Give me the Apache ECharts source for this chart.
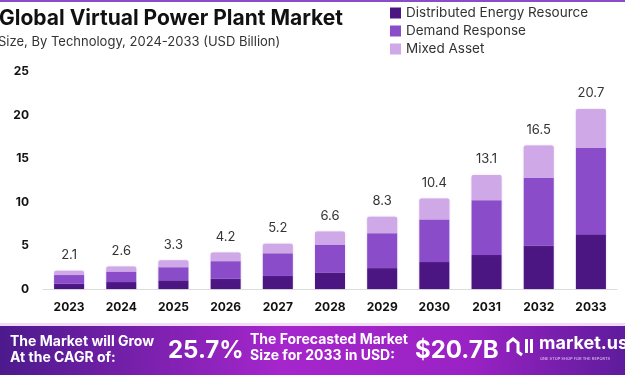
<!DOCTYPE html>
<html>
<head>
<meta charset="utf-8">
<script src="https://cdn.jsdelivr.net/npm/echarts@6/dist/echarts.min.js"></script>
<style>
  html, body { margin: 0; padding: 0; background: #fff; }
  #chart { width: 625px; height: 375px; }
</style>
</head>
<body>
<div id="chart"></div>
<script>
// values (USD billion)
const years = ['2023', '2024', '2025', '2026', '2027', '2028', '2029', '2030', '2031', '2032', '2033'];
const distributedEnergy = [0.6, 0.8, 1.0, 1.2, 1.5, 1.9, 2.4, 3.1, 3.9, 5.0, 6.3];
const demandResponse = [1.0, 1.2, 1.5, 2.0, 2.6, 3.2, 4.0, 4.9, 6.3, 7.8, 9.9];
const mixedAsset = [0.5, 0.6, 0.8, 1.0, 1.1, 1.5, 1.9, 2.4, 2.9, 3.7, 4.5];
const totals = [2.1, 2.6, 3.3, 4.2, 5.2, 6.6, 8.3, 10.4, 13.1, 16.5, 20.7];
const yTicks = [0, 5, 10, 15, 20, 25];

const font = 'Inter, "Noto Sans", sans-serif';
const colors = ['#4b1682', '#8a4cc8', '#cfa8e8'];

const chart = echarts.init(document.getElementById('chart'));

const barStyle = (c) => ({
  color: c,
  shadowColor: 'rgba(120, 60, 180, 0.25)',
  shadowBlur: 2
});

chart.setOption({
  animation: false,
  textStyle: { fontFamily: font },
  grid: { left: 43, right: 8, top: 71.5, bottom: 86 },
  legend: {
    orient: 'vertical',
    left: 385,
    top: 1,
    itemWidth: 11,
    itemHeight: 11,
    itemGap: 4,
    icon: 'rect',
    textStyle: { fontSize: 13.5, color: '#333', fontFamily: font }
  },
  xAxis: {
    type: 'category',
    data: years,
    axisTick: { show: false },
    axisLine: { lineStyle: { color: '#dcdcdc' } },
    axisLabel: { color: '#111', fontWeight: 'bold', fontSize: 12, margin: 12 }
  },
  yAxis: {
    type: 'value',
    min: yTicks[0],
    max: yTicks[yTicks.length - 1],
    interval: 5,
    splitLine: { show: false },
    axisLabel: { color: '#111', fontWeight: 'bold', fontSize: 12, margin: 14 }
  },
  series: [
    {
      name: 'Distributed Energy Resource', type: 'bar', stack: 'v', barWidth: 30,
      itemStyle: barStyle(colors[0]), data: distributedEnergy
    },
    {
      name: 'Demand Response', type: 'bar', stack: 'v',
      itemStyle: barStyle(colors[1]), data: demandResponse
    },
    {
      name: 'Mixed Asset', type: 'bar', stack: 'v',
      itemStyle: Object.assign(barStyle(colors[2]), { borderRadius: [2, 2, 0, 0] }),
      data: mixedAsset,
      label: {
        show: true, position: 'top', distance: 9,
        color: '#333', fontSize: 13,
        formatter: (p) => totals[p.dataIndex].toFixed(1)
      }
    }
  ],
  graphic: [
    { type: 'rect', shape: { x: 0, y: 0, width: 625, height: 2 }, style: { fill: '#8a4cc8' } },
    {
      type: 'text', left: -1, top: 8,
      style: { text: 'Global Virtual Power Plant Market', fontSize: 21, fontWeight: 'bold', fill: '#111', fontFamily: font }
    },
    {
      type: 'text', left: -2, top: 36,
      style: { text: 'Size, By Technology, 2024-2033 (USD Billion)', fontSize: 13, fill: '#333', fontFamily: font }
    },
    { type: 'rect', shape: { x: 0, y: 323, width: 625, height: 3 }, style: { fill: '#f4d8fa' } },
    {
      type: 'rect', shape: { x: 0, y: 326, width: 625, height: 49 },
      style: {
        fill: new echarts.graphic.LinearGradient(0, 0, 1, 0, [
          { offset: 0, color: '#4c1a8c' },
          { offset: 0.45, color: '#a526cc' },
          { offset: 0.75, color: '#9a22c4' },
          { offset: 1, color: '#5e1c9c' }
        ])
      }
    },
    {
      type: 'text', left: 10, top: 334,
      style: { text: 'The Market will Grow\nAt the CAGR of:', fontSize: 14, lineHeight: 16, fontWeight: 'bold', fill: '#fff', fontFamily: font }
    },
    {
      type: 'text', left: 168, top: 339,
      style: { text: '25.7%', fontSize: 24, fontWeight: 'bold', fill: '#fff', fontFamily: font }
    },
    {
      type: 'text', left: 250, top: 332,
      style: { text: 'The Forecasted Market\nSize for 2033 in USD:', fontSize: 14, lineHeight: 16, fontWeight: 'bold', fill: '#fff', fontFamily: font }
    },
    {
      type: 'text', left: 415, top: 339,
      style: { text: '$20.7B', fontSize: 24, fontWeight: 'bold', fill: '#fff', fontFamily: font }
    },
    {
      type: 'polyline',
      shape: { points: [[508, 352], [508, 343], [513, 339], [518, 343], [518, 352], [522, 355]] },
      style: { stroke: '#fff', lineWidth: 3, fill: null }
    },
    { type: 'rect', shape: { x: 525, y: 339, width: 3, height: 14 }, style: { fill: '#fff' } },
    { type: 'rect', shape: { x: 530, y: 339, width: 3, height: 14 }, style: { fill: '#fff' } },
    {
      type: 'text', left: 539, top: 335,
      style: { text: 'market.us', fontSize: 18, fontWeight: 'bold', fill: '#fff', fontFamily: font }
    },
    {
      type: 'text', left: 540, top: 357,
      style: { text: 'ONE STOP SHOP FOR THE REPORTS', fontSize: 4, fill: '#e8d0f4', fontFamily: font }
    }
  ]
});

window.addEventListener('resize', () => chart.resize());
</script>
</body>
</html>
